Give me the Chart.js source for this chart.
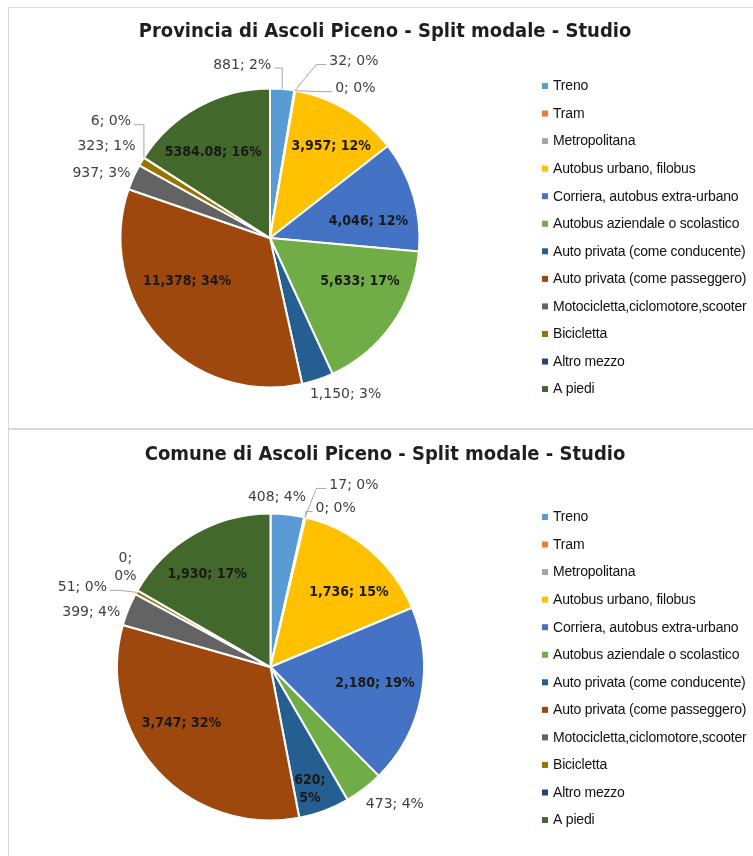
<!DOCTYPE html>
<html><head><meta charset="utf-8">
<script src="https://cdn.jsdelivr.net/npm/chart.js@4.4.1/dist/chart.umd.min.js"></script>
<style>
html,body{margin:0;padding:0;background:#fff;width:753px;height:856px;overflow:hidden;position:relative;}
.panel{position:absolute;left:8px;width:770px;border:1.5px solid #d9d9d9;box-sizing:border-box;}
#p1{top:7px;height:422px;}
#p2{top:429px;height:460px;}
canvas{position:absolute;left:0;}
#c1{top:0;}
#c2{top:428px;}
</style></head>
<body>
<div class="panel" id="p1"></div>
<div class="panel" id="p2"></div>
<canvas id="c1" width="753" height="428" style="width:753px;height:428px"></canvas>
<canvas id="c2" width="753" height="428" style="width:753px;height:428px"></canvas>
<script>
// ---- DATA ----
const categories = ['Treno','Tram','Metropolitana','Autobus urbano, filobus','Corriera, autobus extra-urbano','Autobus aziendale o scolastico','Auto privata (come conducente)','Auto privata (come passeggero)','Motocicletta,ciclomotore,scooter','Bicicletta','Altro mezzo','A piedi'];
const provinciaValues = [881, 32, 0, 3957, 4046, 5633, 1150, 11378, 937, 323, 6, 5384.08];
const provinciaPercents = ['2%','0%','0%','12%','12%','17%','3%','34%','3%','1%','0%','16%'];
const comuneValues = [408, 17, 0, 1736, 2180, 473, 620, 3747, 399, 51, 0, 1930];
const comunePercents = ['4%','0%','0%','15%','19%','4%','5%','32%','4%','0%','0%','17%'];
const provinciaTitle = 'Provincia di Ascoli Piceno - Split modale - Studio';
const comuneTitle = 'Comune di Ascoli Piceno - Split modale - Studio';

// ---- STYLE ----
const sliceColors = ['#5B9BD5','#ED7D31','#A5A5A5','#FFC000','#4472C4','#70AD47','#255E91','#9E480E','#636363','#997300','#264478','#43682B'];
const provinciaLabelStyle = [
  {out:true, nudge:[-40,-24], leader:true},
  {out:true, nudge:[59,-29], leader:true},
  {out:true, nudge:[60,-2], leader:true},
  {nudge:[9,-4]},
  {nudge:[1,12]},
  {nudge:[7,-15]},
  {out:true, nudge:[28,15]},
  {nudge:[-7,-24]},
  {out:true, nudge:[-32,-4]},
  {out:true, nudge:[-35,-15]},
  {out:true, nudge:[-33,-36], leader:true},
  {nudge:[-8,4]}
];
const comuneLabelStyle = [
  {out:true, nudge:[-10.5,-17.4]},
  {out:true, nudge:[49,-32], leader:true},
  {out:true, nudge:[30,-9], leader:true},
  {nudge:[11,5]},
  {nudge:[2,-4]},
  {out:true, nudge:[31,16]},
  {nudge:[3,25], wrap:true},
  {nudge:[-12,-14]},
  {out:true, nudge:[-37,3]},
  {out:true, nudge:[-54,-5], leader:true},
  {out:true, nudge:[-12,-23], wrap:true},
  {nudge:[-11,-2]}
];

function fmtValue(v){ return Number.isInteger(v) ? v.toLocaleString('en-US') : String(v); }

const decorPlugin = {
  id: 'pieDecor',
  afterDraw(chart) {
    const cfg = chart.options.plugins.pieDecor;
    const ctx = chart.ctx;
    ctx.save();
    // title
    ctx.font = cfg.titleFont;
    ctx.fillStyle = '#1f1f1f';
    ctx.textAlign = 'center';
    ctx.textBaseline = 'middle';
    ctx.fillText(cfg.title, cfg.titleX, cfg.titleY);
    // legend
    ctx.font = cfg.legendFont;
    ctx.textAlign = 'left';
    if ('letterSpacing' in ctx) ctx.letterSpacing = cfg.legendSpacing;
    chart.data.labels.forEach((lab, i) => {
      const y = cfg.legendY + i * cfg.legendStep;
      ctx.fillStyle = sliceColors[i];
      ctx.fillRect(cfg.legendX - 3, y - 3, 6, 6);
      ctx.fillStyle = '#111';
      ctx.fillText(lab, cfg.legendX + 8, y + 0.5);
    });
    if ('letterSpacing' in ctx) ctx.letterSpacing = '0px';
    // data labels
    const meta = chart.getDatasetMeta(0);
    const values = chart.data.datasets[0].data;
    ctx.textAlign = 'center';
    meta.data.forEach((arc, i) => {
      const p = arc.getProps(['x','y','startAngle','endAngle','outerRadius'], true);
      const st = cfg.places[i];
      const mid = (p.startAngle + p.endAngle) / 2;
      const rf = st.out ? 1 : cfg.insideFactor;
      const ax = p.x + Math.cos(mid) * p.outerRadius * rf;
      const ay = p.y + Math.sin(mid) * p.outerRadius * rf;
      const lx = ax + st.nudge[0], ly = ay + st.nudge[1];
      const vTxt = fmtValue(values[i]);
      const pTxt = cfg.percents[i];
      ctx.font = st.out ? cfg.labelFont : cfg.insideFont;
      ctx.fillStyle = st.out ? '#404040' : '#1a1a1a';
      if (st.wrap) {
        ctx.fillText(vTxt + ';', lx, ly - 9);
        ctx.fillText(pTxt, lx, ly + 9);
      } else {
        const txt = vTxt + '; ' + pTxt;
        ctx.fillText(txt, lx, ly);
        if (st.leader) {
          const w = ctx.measureText(txt).width;
          const right = lx > ax;
          const ex = right ? lx - w/2 - 3 : lx + w/2 + 3;
          const ey = ly + 3;
          let bx = right ? Math.max(ax, ex - 10) : Math.min(ax, ex + 10);
          ctx.strokeStyle = '#a6a6a6';
          ctx.lineWidth = 1;
          ctx.beginPath();
          ctx.moveTo(ax, ay);
          ctx.lineTo(bx, ey);
          ctx.lineTo(ex, ey);
          ctx.stroke();
        }
      }
    });
    ctx.restore();
  }
};

function makePie(id, values, percents, title, places, padding, titleY, legendY) {
  return new Chart(document.getElementById(id), {
    type: 'pie',
    data: {
      labels: categories,
      datasets: [{ data: values, backgroundColor: sliceColors, borderColor: '#ffffff', borderWidth: 2 }]
    },
    options: {
      responsive: false,
      animation: false,
      events: [],
      layout: { padding },
      plugins: {
        legend: { display: false },
        title: { display: false },
        tooltip: { enabled: false },
        pieDecor: {
          title, titleX: 385, titleY,
          titleFont: 'bold 20px "DejaVu Sans Condensed", "DejaVu Sans", sans-serif',
          legendFont: '14px "Liberation Sans", sans-serif',
          legendSpacing: '-0.2px',
          legendX: 545, legendY, legendStep: 27.55,
          labelFont: '14px "DejaVu Sans", sans-serif',
          insideFont: 'bold 14px "DejaVu Sans Condensed", "DejaVu Sans", sans-serif',
          insideFactor: 0.68,
          places, percents
        }
      }
    },
    plugins: [decorPlugin]
  });
}

makePie('c1', provinciaValues, provinciaPercents, provinciaTitle, provinciaLabelStyle,
  {left:119.5, right:332.5, top:87.5, bottom:39.5}, 32, 86);
makePie('c2', comuneValues, comunePercents, comuneTitle, comuneLabelStyle,
  {left:116, right:328, top:84.5, bottom:34.5}, 27, 89);
</script>
</body></html>
